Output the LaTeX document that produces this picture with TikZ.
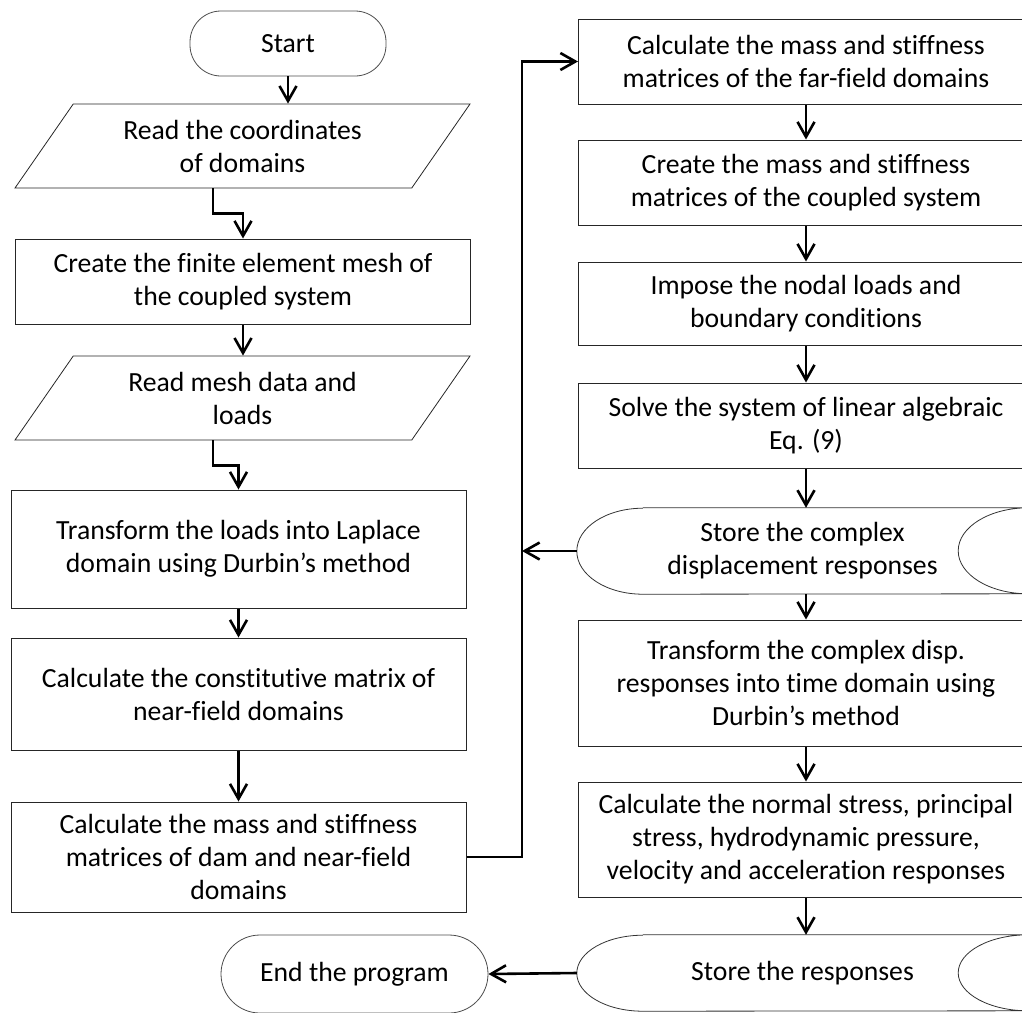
\documentclass[tikz,border=0pt]{standalone}
\usepackage{fontspec}
\setmainfont{Carlito}[Ligatures={TeX,NoCommon}]
\usetikzlibrary{arrows.meta}
\usetikzlibrary{shapes.geometric}
\usetikzlibrary{calc}

\begin{document}
\begin{tikzpicture}[x=1pt,y=-1pt,
  font=\fontsize{27.7}{33}\selectfont,
  process/.style={shape=rectangle,
    draw=black!85,
    line width=1pt,
    align=center,
    minimum width=455pt,
    inner sep=2pt},
  io/.style={shape=trapezium,
    trapezium left angle=42,
    trapezium right angle=138,
    trapezium stretches body=true,
    draw=black!85,
    line width=0.8pt,
    align=center,
    minimum width=455pt,
    minimum height=84pt,
    inner sep=0pt},
  term/.style={shape=rectangle,
    draw=black!70,
    line width=0.8pt,
    align=center},
  storebox/.style={shape=rectangle,
    align=center,
    minimum width=451pt,
    inner sep=0pt},
  outline/.style={draw=black!80, line width=0.8pt},
  flow/.style={-{Straight Barb[length=15pt,width=17pt]}, line width=2.6pt}]
      %\draw[help lines] (0,0) grid[step=50] (1022,1012); % Only for Development
      \useasboundingbox (0,0) rectangle (1022,1012);

      % left column
      \node[term,
        minimum width=196pt,
        minimum height=65pt,
        rounded corners=31pt] (start) at (288,43.5) {Start};
      \node[io] (read1) at (242.5,146) {Read the coordinates\\of domains};
      \node[process,
        minimum height=85pt] (mesh) at (243,281.5) {Create the finite element mesh of\\the coupled system};
      \node[io] (read2) at (242.5,398) {Read mesh data and\\loads};
      \node[process,
        minimum height=118pt] (laplace) at (238.5,549) {Transform the loads into Laplace\\domain using Durbin's method};
      \node[process,
        minimum height=112pt] (constmat) at (238.5,694) {Calculate the constitutive matrix of\\near-field domains};
      \node[process,
        minimum height=110pt] (massnear) at (238.5,857) {Calculate the mass and stiffness\\matrices of dam and near-field\\domains};
      \node[term,
        minimum width=267pt,
        minimum height=78pt,
        rounded corners=39pt] (finish) at (354.5,974) {End the program};

      % right column
      \node[process,
        minimum height=85pt] (farfield) at (806,61.5) {Calculate the mass and stiffness\\matrices of the far-field domains};
      \node[process,
        minimum height=85pt] (coupled) at (806,182.5) {Create the mass and stiffness\\matrices of the coupled system};
      \node[process,
        minimum height=83pt] (impose) at (806,303.5) {Impose the nodal loads and\\boundary conditions};
      \node[process,
        minimum height=85pt] (solve) at (806,425.5) {Solve the system of linear algebraic\\Eq. (9)};
      \node[storebox,
        minimum height=86pt] (store1) at (802.5,551) {Store the complex\\displacement responses};
      \node[process,
        minimum height=126pt] (timedom) at (806,683) {Transform the complex disp.\\responses into time domain using\\Durbin's method};
      \node[process,
        minimum height=115pt] (stress) at (806,839.5) {Calculate the normal stress, principal\\stress, hydrodynamic pressure,\\velocity and acceleration responses};
      \node[storebox,
        minimum height=76pt] (store2) at (802.5,973) {Store the responses};

      \foreach \s/\r in {store1/43,store2/38}{
        \draw[outline] ([xshift=66pt]\s.north west) -- (\s.north east)
          arc[start angle=90,end angle=270,x radius=70pt,y radius={\r pt}]
          -- ([xshift=66pt]\s.south west)
          arc[start angle=-90,end angle=-270,x radius=66pt,y radius={\r pt}];
      }

      % connectors
      \coordinate (bend) at (522,61.5);
      \draw[flow] (start.south) -- (start.south |- read1.north);
      \draw[flow] ($(read1.bottom left corner)!.5!(read1.bottom right corner)$) -- ++(0,25) -| (mesh.north);
      \draw[flow] (mesh.south) -- (mesh.south |- read2.north);
      \draw[flow] ($(read2.bottom left corner)!.5!(read2.bottom right corner)$) -- ++(0,25) -| (laplace.north);
      \draw[flow] (laplace.south) -- (constmat.north);
      \draw[flow] (constmat.south) -- (massnear.north);
      \draw[flow] (massnear.east) -| (bend) -- (farfield.west);
      \draw[flow] (farfield.south) -- (coupled.north);
      \draw[flow] (coupled.south) -- (impose.north);
      \draw[flow] (impose.south) -- (solve.north);
      \draw[flow] (solve.south) -- (solve.south |- store1.north);
      \draw[flow] (store1.west) -- (store1.west -| bend);
      \draw[flow] (store1.south -| timedom.north) -- (timedom.north);
      \draw[flow] (timedom.south) -- (stress.north);
      \draw[flow] (stress.south) -- (stress.south |- store2.north);
      \draw[flow] (store2.west) -- (finish.east);

    \end{tikzpicture}
\end{document}
